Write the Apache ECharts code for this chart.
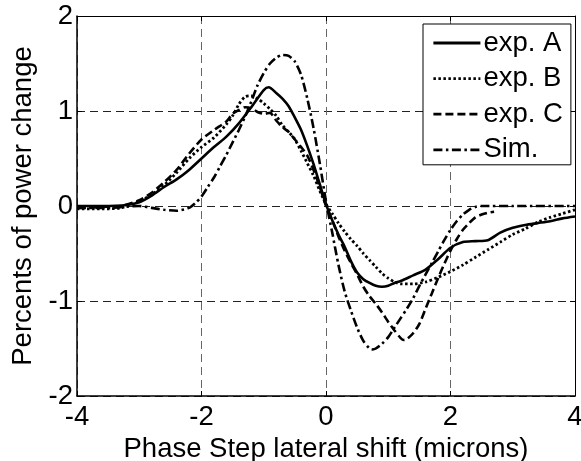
<!DOCTYPE html>
<html>
<head>
<meta charset="utf-8">
<script src="https://cdn.jsdelivr.net/npm/echarts@6/dist/echarts.min.js"></script>
<style>html,body{margin:0;padding:0;background:#fff}#c{width:581px;height:461px}</style>
</head>
<body>
<div id="c"></div>
<script>
// ---- data ----
var seriesNames = ['exp. A', 'exp. B', 'exp. C', 'Sim.'];
var xTicks = [-4, -2, 0, 2, 4];
var yTicks = [-2, -1, 0, 1, 2];

var aX = [-4,-3.6,-3.2,-3.0,-2.8,-2.6,-2.4,-2.2,-2.0,-1.8,-1.6,-1.4,-1.2,-1.0,-0.92,-0.8,-0.7,-0.6,-0.5,-0.4,-0.3,-0.2,-0.1,0.0,0.1,0.2,0.3,0.4,0.5,0.6,0.7,0.8,0.9,1.0,1.1,1.2,1.4,1.6,1.8,2.0,2.2,2.4,2.6,2.8,3.0,3.2,3.4,3.6,3.8,4.0];
var aY = [0.00,0.00,0.01,0.04,0.11,0.20,0.28,0.38,0.50,0.62,0.73,0.87,1.04,1.22,1.25,1.19,1.13,1.05,0.93,0.80,0.63,0.44,0.23,0.02,-0.15,-0.30,-0.43,-0.58,-0.70,-0.77,-0.81,-0.84,-0.85,-0.84,-0.81,-0.79,-0.73,-0.67,-0.56,-0.44,-0.38,-0.37,-0.36,-0.28,-0.23,-0.20,-0.18,-0.16,-0.13,-0.11];

var bX = [-4,-3.6,-3.3,-3.0,-2.8,-2.6,-2.4,-2.2,-2.0,-1.8,-1.6,-1.5,-1.4,-1.3,-1.2,-1.1,-1.0,-0.9,-0.8,-0.7,-0.6,-0.5,-0.4,-0.3,-0.2,-0.1,0.0,0.1,0.2,0.3,0.4,0.5,0.6,0.7,0.8,0.9,1.0,1.1,1.2,1.4,1.6,1.8,2.0,2.2,2.4,2.6,2.8,3.0,3.2,3.4,3.6,3.8,4.0];
var bY = [-0.03,-0.03,-0.02,0.05,0.12,0.22,0.35,0.50,0.62,0.72,0.86,0.95,1.07,1.15,1.16,1.13,1.08,1.02,0.95,0.85,0.78,0.70,0.58,0.45,0.32,0.16,0.02,-0.08,-0.18,-0.27,-0.35,-0.42,-0.50,-0.57,-0.64,-0.71,-0.76,-0.80,-0.82,-0.82,-0.80,-0.75,-0.69,-0.62,-0.54,-0.46,-0.38,-0.30,-0.24,-0.17,-0.12,-0.08,-0.04];

var cX = [-4,-3.6,-3.3,-3.0,-2.8,-2.6,-2.4,-2.2,-2.0,-1.8,-1.6,-1.5,-1.4,-1.3,-1.2,-1.1,-1.0,-0.9,-0.8,-0.7,-0.6,-0.5,-0.4,-0.3,-0.2,-0.1,0.0,0.1,0.2,0.3,0.4,0.5,0.6,0.7,0.8,0.9,1.0,1.1,1.2,1.25,1.3,1.4,1.5,1.6,1.7,1.8,1.9,2.0,2.1,2.2,2.3,2.4,2.5,2.6,2.7];
var cY = [-0.02,-0.01,0.00,0.06,0.14,0.25,0.38,0.55,0.70,0.80,0.89,0.97,1.01,1.04,1.03,0.99,0.97,0.98,0.90,0.83,0.78,0.70,0.62,0.53,0.38,0.20,0.00,-0.15,-0.32,-0.47,-0.60,-0.72,-0.85,-0.95,-1.03,-1.12,-1.22,-1.31,-1.39,-1.41,-1.40,-1.34,-1.24,-1.08,-0.92,-0.76,-0.61,-0.47,-0.35,-0.25,-0.18,-0.12,-0.09,-0.07,-0.06];

var sX = [-4,-3.5,-3.0,-2.8,-2.6,-2.4,-2.2,-2.1,-2.0,-1.9,-1.8,-1.7,-1.6,-1.5,-1.4,-1.3,-1.2,-1.1,-1.0,-0.9,-0.8,-0.7,-0.6,-0.5,-0.4,-0.3,-0.2,-0.1,0.0,0.1,0.2,0.3,0.4,0.5,0.6,0.7,0.75,0.8,0.9,1.0,1.1,1.2,1.3,1.4,1.5,1.6,1.7,1.8,1.9,2.0,2.1,2.2,2.3,2.4,2.5,3.0,4.0];
var sY = [-0.02,-0.02,0.00,-0.02,-0.04,-0.05,-0.02,0.03,0.10,0.20,0.30,0.42,0.54,0.67,0.80,0.94,1.10,1.27,1.40,1.50,1.56,1.59,1.58,1.52,1.38,1.13,0.82,0.45,0.05,-0.28,-0.62,-0.90,-1.10,-1.28,-1.42,-1.50,-1.51,-1.50,-1.45,-1.38,-1.28,-1.18,-1.08,-0.97,-0.84,-0.72,-0.60,-0.48,-0.36,-0.25,-0.16,-0.09,-0.04,-0.01,0.00,0.00,0.00];

function pairs(xs, ys) { return xs.map(function (x, i) { return [x, ys[i]]; }); }

var FONT = '"Liberation Sans", Arial, Helvetica, sans-serif';
var FS = 27.5;

var chart = echarts.init(document.getElementById('c'), null, { renderer: 'canvas' });

function mkSeries(name, xs, ys, type, width) {
  return {
    name: name, type: 'line', data: pairs(xs, ys), symbol: 'none', smooth: 0.25,
    xAxisIndex: 0, yAxisIndex: 0, animation: false,
    lineStyle: { color: '#000', width: width, type: type },
    itemStyle: { color: '#000' }
  };
}

var option = {
  backgroundColor: '#fff',
  animation: false,
  grid: { left: 77, right: 6, top: 16, bottom: 65, containLabel: false, outerBoundsMode: 'none' },
  legend: {
    orient: 'vertical', left: 423, top: 24,
    padding: [5, 8, 1, 9],
    itemWidth: 47, itemHeight: 28, itemGap: 7.6,
    backgroundColor: '#fff', borderColor: '#000', borderWidth: 1, borderRadius: 0,
    itemStyle: { color: 'transparent', borderColor: 'transparent', borderWidth: 0, opacity: 0 },
    lineStyle: { width: 2.8 },
    textStyle: { fontFamily: FONT, fontSize: FS, color: '#000', lineHeight: 28, padding: [0, 0, 0, -2] },
    data: seriesNames
  },
  xAxis: [{
    type: 'value', min: -4, max: 4, interval: 2, position: 'bottom',
    name: 'Phase Step lateral shift (microns)', nameLocation: 'middle', nameGap: 25,
    nameTextStyle: { fontFamily: FONT, fontSize: FS, color: '#000' },
    axisLine: { show: true, onZero: false, lineStyle: { color: '#000', width: 1.5 } },
    axisTick: { show: true, inside: true, length: 5, lineStyle: { color: '#000' } },
    axisLabel: { fontFamily: FONT, fontSize: FS, color: '#000', margin: 7 },
    splitLine: { show: true, lineStyle: { color: '#666', width: 1, type: [8, 5] } }
  }, {
    type: 'value', min: -4, max: 4, interval: 2, position: 'top',
    axisLine: { show: true, onZero: false, lineStyle: { color: '#000', width: 1 } },
    axisTick: { show: true, inside: true, length: 5, lineStyle: { color: '#000' } },
    axisLabel: { show: false }, splitLine: { show: false }
  }],
  yAxis: [{
    type: 'value', min: -2, max: 2, interval: 1, position: 'left',
    name: 'Percents of power change', nameLocation: 'middle', nameGap: 40,
    nameTextStyle: { fontFamily: FONT, fontSize: FS, color: '#000' },
    axisLine: { show: true, onZero: false, lineStyle: { color: '#000', width: 1.5 } },
    axisTick: { show: true, inside: true, length: 5, lineStyle: { color: '#000' } },
    axisLabel: { fontFamily: FONT, fontSize: FS, color: '#000', margin: 4 },
    splitLine: { show: true, lineStyle: { color: '#222', width: 1, type: [8, 5] } }
  }, {
    type: 'value', min: -2, max: 2, interval: 1, position: 'right',
    axisLine: { show: true, onZero: false, lineStyle: { color: '#000', width: 1 } },
    axisTick: { show: true, inside: true, length: 5, lineStyle: { color: '#000' } },
    axisLabel: { show: false }, splitLine: { show: false }
  }],
  series: [
    mkSeries(seriesNames[0], aX, aY, 'solid', 2.6),
    mkSeries(seriesNames[1], bX, bY, [2.5, 2.5], 2.8),
    mkSeries(seriesNames[2], cX, cY, [8, 4], 2.6),
    mkSeries(seriesNames[3], sX, sY, [9, 3.5, 2.5, 3.5], 2.6)
  ]
};
chart.setOption(option);
</script>
</body>
</html>
